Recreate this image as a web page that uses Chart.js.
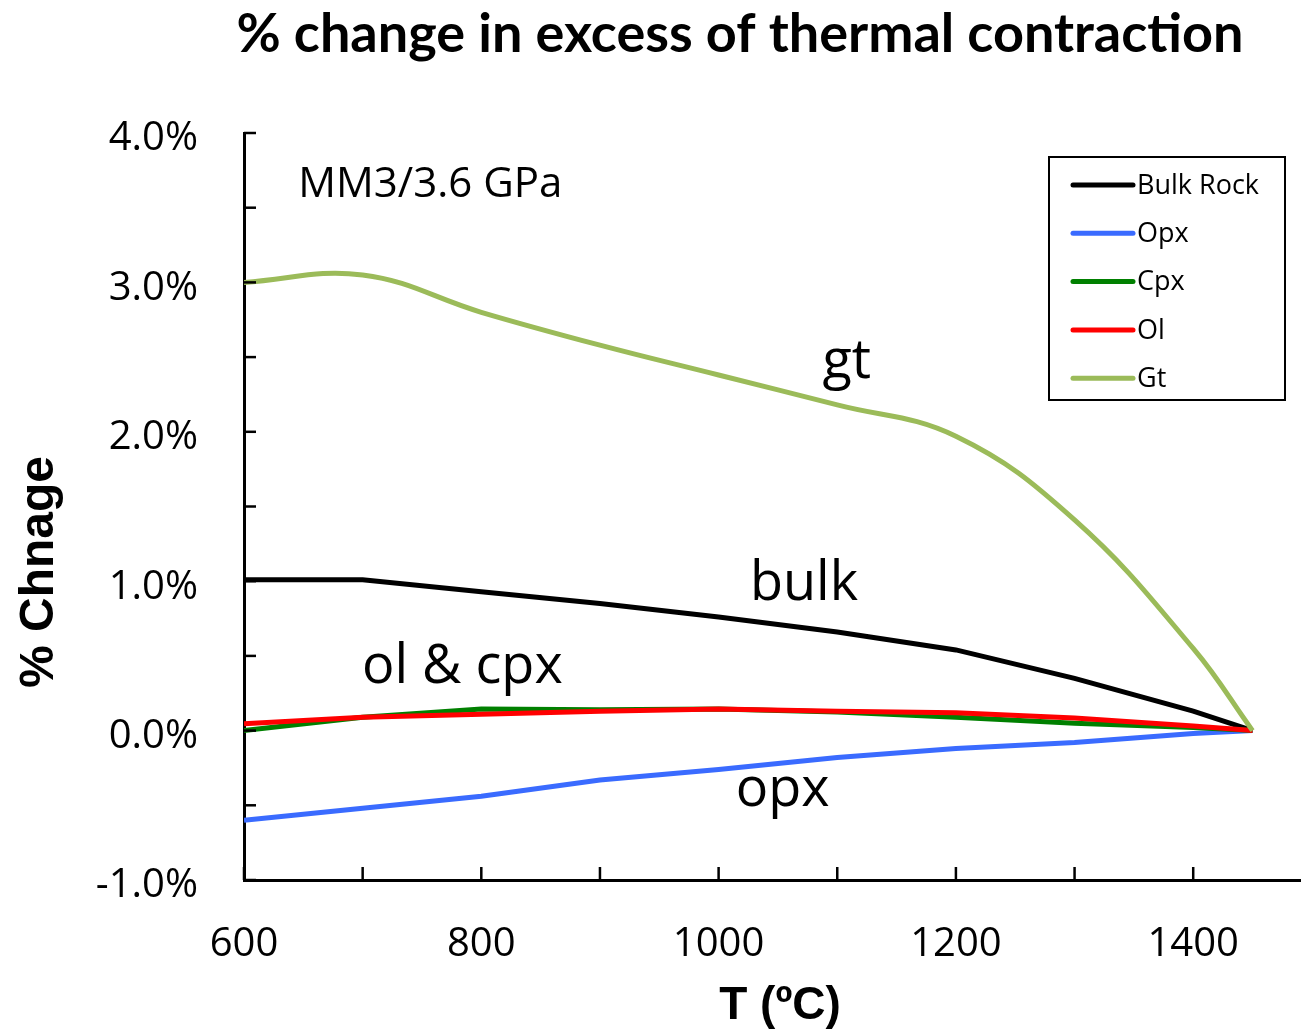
<!DOCTYPE html>
<html>
<head>
<meta charset="utf-8">
<script src="https://cdn.jsdelivr.net/npm/chart.js@4.4.0/dist/chart.umd.min.js"></script>
<style>
  html, body { margin: 0; padding: 0; background: #fff; }
  canvas { display: block; }
</style>
</head>
<body>
<canvas id="chart" width="1301" height="1033"></canvas>
<script>
// temperature (ºC) and % change per phase
const temps = [600, 700, 800, 900, 1000, 1100, 1200, 1300, 1400, 1450];
const bulkRock = [1.01, 1.01, 0.93, 0.85, 0.76, 0.66, 0.54, 0.35, 0.13, 0.0];
const opx = [-0.60, -0.52, -0.44, -0.33, -0.26, -0.18, -0.12, -0.08, -0.02, 0.0];
const cpx = [0.00, 0.09, 0.145, 0.14, 0.145, 0.125, 0.09, 0.05, 0.02, 0.0];
const ol = [0.045, 0.09, 0.11, 0.13, 0.145, 0.13, 0.12, 0.085, 0.03, 0.0];
const gt = [3.00, 3.05, 2.80, 2.58, 2.38, 2.18, 1.97, 1.41, 0.55, 0.0];

const seriesNames = ['Bulk Rock', 'Opx', 'Cpx', 'Ol', 'Gt'];
const seriesColors = ['#000000', '#3a6bff', '#008000', '#ff0000', '#9bbb59'];

// axis ticks (every one gets a mark, labelled ones listed separately)
const xTicks = [600, 700, 800, 900, 1000, 1100, 1200, 1300, 1400];
const xLabels = [600, 800, 1000, 1200, 1400];
const yTicks = [-1, -0.5, 0, 0.5, 1, 1.5, 2, 2.5, 3, 3.5, 4];
const yLabels = [-1, 0, 1, 2, 3, 4];

const chartTitle = '% change in excess of thermal contraction';
const xTitle = 'T (ºC)';
const yTitle = '% Chnage';

// text labels placed in data coordinates
const notes = [
  { text: 'MM3/3.6 GPa', x: 757, y: 3.65, size: 42 },
  { text: 'gt', x: 1108, y: 2.46, size: 54 },
  { text: 'bulk', x: 1072, y: 0.975, size: 54 },
  { text: 'ol & cpx', x: 784, y: 0.42, size: 54 },
  { text: 'opx', x: 1054, y: -0.40, size: 54 }
];

const SANS = '"Open Sans", sans-serif';
const TITLE_FONT = 'Lato, sans-serif';
const AXIS_FONT = '"Liberation Sans", Arial, sans-serif';
Chart.defaults.font.family = SANS;
Chart.defaults.color = '#000';

function pts(ys) {
  return temps.map((t, i) => ({ x: t, y: ys[i] }));
}

const allSeries = [bulkRock, opx, cpx, ol, gt];
const datasets = allSeries.map((ys, i) => ({
  label: seriesNames[i],
  data: pts(ys),
  borderColor: seriesColors[i],
  backgroundColor: seriesColors[i],
  borderWidth: 5,
  pointRadius: 0,
  tension: seriesNames[i] === 'Gt' ? 0.4 : 0,
  order: 4 - i
}));

const extras = {
  id: 'extras',
  afterDatasetsDraw(chart) {
    const { ctx, chartArea, scales } = chart;
    const xs = scales.x, ys = scales.y;
    ctx.save();

    // inward tick marks
    ctx.strokeStyle = '#000';
    ctx.lineWidth = 2.5;
    xTicks.forEach(t => {
      const px = xs.getPixelForValue(t);
      ctx.beginPath();
      ctx.moveTo(px, chartArea.bottom);
      ctx.lineTo(px, chartArea.bottom - 13);
      ctx.stroke();
    });
    yTicks.forEach(v => {
      const py = ys.getPixelForValue(v);
      ctx.beginPath();
      ctx.moveTo(chartArea.left, py);
      ctx.lineTo(chartArea.left + 12, py);
      ctx.stroke();
    });

    // annotations
    ctx.fillStyle = '#000';
    ctx.textAlign = 'center';
    ctx.textBaseline = 'middle';
    notes.forEach(n => {
      ctx.font = n.size + 'px ' + SANS;
      ctx.fillText(n.text, xs.getPixelForValue(n.x), ys.getPixelForValue(n.y));
    });

    // titles (placed off-centre like the original)
    ctx.font = 'bold 54px ' + TITLE_FONT;
    ctx.fillText(chartTitle, 740, 35);
    ctx.font = 'bold 46px ' + AXIS_FONT;
    ctx.fillText(xTitle, 780, 1006);
    ctx.save();
    ctx.translate(40, 572);
    ctx.rotate(-Math.PI / 2);
    ctx.font = 'bold 48px ' + AXIS_FONT;
    ctx.fillText(yTitle, 0, 0);
    ctx.restore();

    // legend box
    const bx = chartArea.right - 251, by = chartArea.top + 24;
    const bw = 236, bh = 243;
    ctx.fillStyle = '#fff';
    ctx.fillRect(bx, by, bw, bh);
    ctx.strokeStyle = '#000';
    ctx.lineWidth = 2;
    ctx.strokeRect(bx, by, bw, bh);
    ctx.textAlign = 'left';
    ctx.font = '27px ' + SANS;
    seriesNames.forEach((name, i) => {
      const ry = by + 28 + i * 48.3;
      ctx.strokeStyle = seriesColors[i];
      ctx.lineWidth = 5;
      ctx.lineCap = 'round';
      ctx.beginPath();
      ctx.moveTo(bx + 24, ry);
      ctx.lineTo(bx + 84, ry);
      ctx.stroke();
      ctx.fillStyle = '#000';
      ctx.fillText(name, bx + 88, ry + 1);
    });
    ctx.restore();
  }
};

new Chart(document.getElementById('chart'), {
  type: 'line',
  data: { datasets },
  options: {
    responsive: false,
    animation: false,
    layout: { padding: { left: 0, right: 1, top: 133, bottom: 0 } },
    plugins: {
      legend: { display: false },
      tooltip: { enabled: false },
      title: { display: false }
    },
    scales: {
      x: {
        type: 'linear',
        min: 600,
        max: 1490,
        grid: { display: false, drawTicks: false },
        border: { display: true, color: '#000', width: 3 },
        ticks: {
          autoSkip: false,
          maxRotation: 0,
          padding: 41,
          font: { size: 40 },
          callback: v => (xLabels.includes(v) ? String(v) : '')
        },
        afterBuildTicks: s => { s.ticks = xTicks.map(v => ({ value: v })); },
        title: { display: false },
        afterFit: s => {
          s.height = 153;
          s.paddingLeft = 0;
          s.paddingRight = 0;
        }
      },
      y: {
        min: -1,
        max: 4,
        grid: { display: false, drawTicks: false },
        border: { display: true, color: '#000', width: 3 },
        ticks: {
          autoSkip: false,
          padding: 46,
          labelOffset: 6,
          font: { size: 40 },
          callback: v => (yLabels.includes(v) ? v.toFixed(1) + '%' : '')
        },
        afterBuildTicks: s => { s.ticks = yTicks.map(v => ({ value: v })); },
        title: { display: false },
        afterFit: s => {
          s.width = 244;
          s.paddingTop = 0;
          s.paddingBottom = 0;
        }
      }
    }
  },
  plugins: [extras]
});
</script>
</body>
</html>
